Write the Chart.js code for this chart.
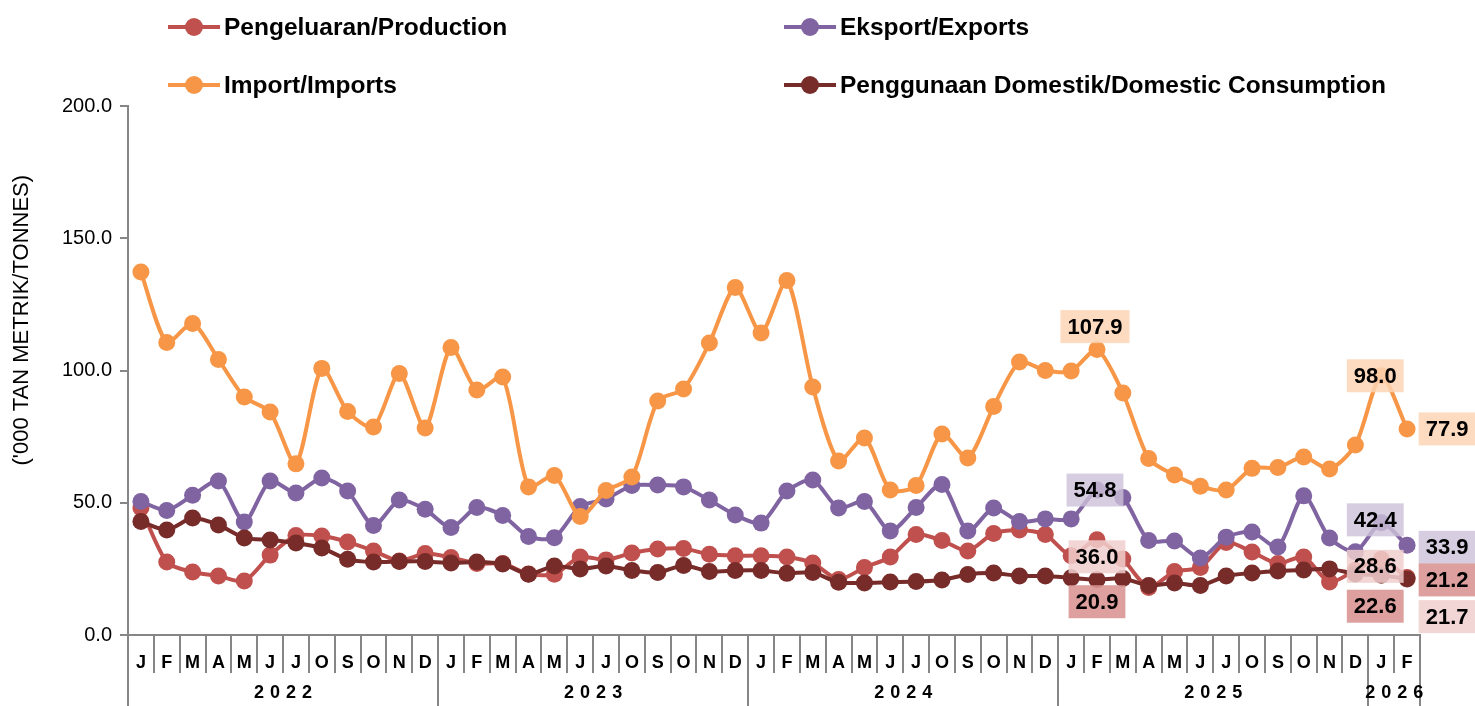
<!DOCTYPE html>
<html>
<head>
<meta charset="utf-8">
<script src="https://cdn.jsdelivr.net/npm/chart.js@4.4.1/dist/chart.umd.min.js"></script>
<style>
  body { margin: 0; background: #fff; }
  #wrap { position: relative; width: 1475px; height: 706px; }
  .legend-item {
    position: absolute; display: flex; align-items: center; height: 28px;
    font: bold 24.5px "Liberation Sans", Arial, sans-serif; color: #000; white-space: nowrap;
  }
  .mk { position: relative; width: 52px; height: 18px; margin-right: 4px; }
  .mk .ln { position: absolute; left: 0; right: 0; top: 7px; height: 4px; }
  .mk .dot { position: absolute; left: 17px; top: 0; width: 18px; height: 18px; border-radius: 50%; }
</style>
</head>
<body>
<div id="wrap">
  <canvas id="chart" width="1475" height="706"></canvas>
  <div id="legend"></div>
</div>
<script>
// months (Malay initials) and years on the axis
const monthLetters = ["J", "F", "M", "A", "M", "J", "J", "O", "S", "O", "N", "D"];
const years = ["2022", "2023", "2024", "2025", "2026"];
const monthsPerYear = [12, 12, 12, 12, 2];
const yTicks = [0, 50, 100, 150, 200];
const yTitle = "('000 TAN METRIK/TONNES)";

const production = [48.0, 27.6, 23.8, 22.3, 20.4, 30.2, 37.6, 37.4, 35.2, 31.8, 28.0, 30.8,
  29.3, 27.0, 27.0, 23.1, 23.0, 29.5, 28.4, 31.0, 32.5, 32.7, 30.5, 30.0,
  30.0, 29.5, 27.2, 21.0, 25.5, 29.5, 38.0, 35.7, 31.8, 38.4, 39.7, 38.0,
  30.0, 36.0, 28.7, 18.0, 24.0, 25.5, 35.0, 31.4, 27.0, 29.5, 20.0, 24.5,
  28.6, 21.7];

const exportsData = [50.5, 47.1, 52.8, 58.2, 42.7, 58.2, 53.7, 59.4, 54.4, 41.4, 51.0, 47.5,
  40.6, 48.2, 45.2, 37.2, 36.8, 48.6, 51.4, 56.5, 56.7, 56.0, 51.0, 45.4,
  42.3, 54.4, 58.6, 48.0, 50.5, 39.3, 48.2, 56.9, 39.3, 48.0, 42.9, 43.9,
  43.9, 54.8, 52.0, 35.7, 35.5, 29.1, 37.0, 38.9, 33.3, 52.6, 36.7, 31.5,
  42.4, 33.9];

const importsData = [137.2, 110.6, 117.8, 104.2, 90.0, 84.3, 64.7, 100.8, 84.5, 78.6, 98.9, 78.3,
  108.7, 92.6, 97.5, 56.0, 60.3, 44.8, 54.6, 59.7, 88.5, 93.0, 110.4, 131.4,
  114.2, 134.0, 93.8, 65.8, 74.5, 54.8, 56.5, 76.0, 66.9, 86.4, 103.2, 100.0,
  99.8, 107.9, 91.5, 66.7, 60.5, 56.2, 54.8, 63.0, 63.3, 67.3, 62.8, 71.8,
  98.0, 77.9];

const domestic = [42.9, 39.7, 44.2, 41.6, 36.7, 35.9, 34.8, 32.9, 28.6, 27.6, 27.8, 27.8,
  27.2, 27.6, 26.8, 23.0, 26.1, 25.0, 26.1, 24.4, 23.6, 26.3, 24.0, 24.4,
  24.4, 23.3, 23.6, 19.9, 19.7, 20.0, 20.2, 20.8, 22.9, 23.4, 22.3, 22.3,
  21.6, 20.9, 21.4, 18.7, 19.7, 18.7, 22.3, 23.4, 24.2, 24.6, 25.0, 23.1,
  22.6, 21.2];

const labels = [];
monthsPerYear.forEach(n => { for (let i = 0; i < n; i++) labels.push(monthLetters[i]); });

const FONT = '"Liberation Sans", Arial, sans-serif';

const series = [
  { label: "Pengeluaran/Production", data: production, color: "#c0504d", order: 3, box: "rgba(240,207,206,0.85)" },
  { label: "Eksport/Exports", data: exportsData, color: "#8064a2", order: 2, box: "rgba(204,193,218,0.8)" },
  { label: "Import/Imports", data: importsData, color: "#f79646", order: 1, box: "rgba(252,213,181,0.85)" },
  { label: "Penggunaan Domestik/Domestic Consumption", data: domestic, color: "#772c2a", order: 0, box: "rgba(217,150,148,0.9)" }
];

// which points get value boxes, and where the box sits relative to the point
const callouts = [
  { ds: 2, i: 37, dx: -2, dy: -23 }, { ds: 2, i: 48, dx: -6, dy: 0 }, { ds: 2, i: 49, dx: 40, dy: 0 },
  { ds: 1, i: 37, dx: -2, dy: 0 }, { ds: 1, i: 48, dx: -6, dy: -3 }, { ds: 1, i: 49, dx: 40, dy: 2 },
  { ds: 0, i: 37, dx: 0, dy: 17 }, { ds: 0, i: 48, dx: -6, dy: 7 }, { ds: 0, i: 49, dx: 40, dy: 39 },
  { ds: 3, i: 37, dx: 0, dy: 22 }, { ds: 3, i: 48, dx: -6, dy: 31 }, { ds: 3, i: 49, dx: 40, dy: 1 }
];

// legend (two columns, two rows)
const legendPos = [[168, 13], [784, 13], [168, 71], [784, 71]];
const legendEl = document.getElementById("legend");
series.forEach((s, k) => {
  const d = document.createElement("div");
  d.className = "legend-item";
  d.style.left = legendPos[k][0] + "px";
  d.style.top = legendPos[k][1] + "px";
  d.innerHTML = '<span class="mk"><span class="ln" style="background:' + s.color + '"></span>' +
    '<span class="dot" style="background:' + s.color + '"></span></span>';
  const t = document.createElement("span");
  t.textContent = s.label;
  d.appendChild(t);
  legendEl.appendChild(d);
});

const yearAxisPlugin = {
  id: "yearAxis",
  afterDraw(chart) {
    const x = chart.scales.x;
    const c = chart.ctx;
    const half = (x.getPixelForValue(1) - x.getPixelForValue(0)) / 2;
    const bottom = chart.height;
    const top = chart.chartArea.bottom;
    c.save();
    c.strokeStyle = "#868686";
    c.lineWidth = 2;
    let start = 0;
    const edges = [0];
    monthsPerYear.forEach(n => { start += n; edges.push(start); });
    edges.forEach(e => {
      const px = Math.round(x.getPixelForValue(e) - half);
      c.beginPath();
      c.moveTo(px, top);
      c.lineTo(px, bottom);
      c.stroke();
    });
    c.fillStyle = "#000";
    c.font = "bold 18px " + FONT;
    c.textAlign = "center";
    c.textBaseline = "middle";
    c.letterSpacing = "6px";
    years.forEach((yr, k) => {
      const a = x.getPixelForValue(edges[k]) - half;
      const b = x.getPixelForValue(edges[k + 1]) - half;
      c.fillText(yr, (a + b) / 2 + 3, 693);
    });
    c.letterSpacing = "0px";

    // y axis title, sitting a little above the middle of the axis as in the source
    const y = chart.scales.y;
    c.font = "22px " + FONT;
    c.translate(22, y.getPixelForValue(119));
    c.rotate(-Math.PI / 2);
    c.fillText(yTitle, 0, 0);
    c.restore();
  }
};

const calloutPlugin = {
  id: "callouts",
  afterDatasetsDraw(chart) {
    const c = chart.ctx;
    c.save();
    c.font = "bold 22px " + FONT;
    c.textAlign = "center";
    c.textBaseline = "middle";
    callouts.forEach(o => {
      const pt = chart.getDatasetMeta(o.ds).data[o.i];
      const txt = series[o.ds].data[o.i].toFixed(1);
      const w = c.measureText(txt).width + 14;
      const h = 33;
      const cx = pt.x + o.dx, cy = pt.y + o.dy;
      c.fillStyle = series[o.ds].box;
      c.fillRect(cx - w / 2, cy - h / 2, w, h);
      c.fillStyle = "#000";
      c.fillText(txt, cx, cy + 1);
    });
    c.restore();
  }
};

new Chart(document.getElementById("chart"), {
  type: "line",
  data: {
    labels: labels,
    datasets: series.map(s => ({
      label: s.label,
      data: s.data,
      borderColor: s.color,
      backgroundColor: s.color,
      pointBackgroundColor: s.color,
      pointBorderColor: s.color,
      borderWidth: 4,
      pointRadius: 8.5,
      pointBorderWidth: 0,
      tension: 0.25,
      order: s.order
    }))
  },
  options: {
    responsive: false,
    animation: false,
    layout: { padding: { top: 106, right: 55, left: 0, bottom: 0 } },
    plugins: {
      legend: { display: false },
      tooltip: { enabled: false }
    },
    scales: {
      x: {
        type: "category",
        offset: true,
        afterFit: s => { s.height = 71; },
        border: { color: "#868686", width: 2 },
        grid: { offset: true, drawOnChartArea: false, drawTicks: true, tickLength: 38, color: "#868686", lineWidth: 2 },
        ticks: { autoSkip: false, maxRotation: 0, padding: -21, color: "#000", font: { family: FONT, size: 18, weight: "bold" } }
      },
      y: {
        min: 0,
        max: 200,
        afterFit: s => { s.width = 128; },
        afterBuildTicks: s => { s.ticks = yTicks.map(v => ({ value: v })); },
        border: { color: "#868686", width: 2 },
        grid: { drawOnChartArea: false, drawTicks: true, tickLength: 8, color: "#868686", lineWidth: 2 },
        ticks: { padding: 8, color: "#000", font: { family: FONT, size: 20 }, callback: v => Number(v).toFixed(1) }
      }
    }
  },
  plugins: [yearAxisPlugin, calloutPlugin]
});
</script>
</body>
</html>
